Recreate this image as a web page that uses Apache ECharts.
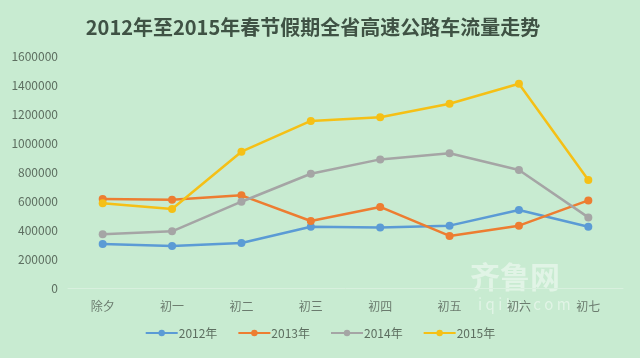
<!DOCTYPE html>
<html><head><meta charset="utf-8">
<script src="https://cdn.jsdelivr.net/npm/echarts@6/dist/echarts.min.js"></script>
<style>html,body{margin:0;padding:0;background:#c8ebd1;}#c{width:640px;height:358px;}</style>
</head><body><div id="c"></div>
<script>
const categories = ['除夕','初一','初二','初三','初四','初五','初六','初七'];
const s2012 = [303000, 290000, 310000, 423000, 417000, 430000, 538000, 423000];
const s2013 = [614000, 609000, 639000, 462000, 559000, 359000, 430000, 604000];
const s2014 = [370000, 391000, 595000, 788000, 887000, 929000, 814000, 487000];
const s2015 = [584000, 545000, 940000, 1152000, 1177000, 1271000, 1409000, 745000];
const seriesNames = ['2012年','2013年','2014年','2015年'];
const colors = ['#5b9bd5','#ed7d31','#a5a5a5','#f5c016'];
const font = '"Noto Sans CJK SC", sans-serif';
const chart = echarts.init(document.getElementById('c'));
const mk = (name, data, color) => ({
  name, type: 'line', data, symbol: 'circle', symbolSize: 8,
  lineStyle: { width: 2.5, color }, itemStyle: { color }
});
chart.setOption({
  backgroundColor: '#c8ebd1',
  color: colors,
  title: {
    text: '2012年至2015年春节假期全省高速公路车流量走势',
    left: 308, top: 12, textAlign: 'center',
    textStyle: { fontFamily: font, fontSize: 20, fontWeight: 'bold', color: '#3f5244' }
  },
  grid: { left: 68, right: 17, top: 56, bottom: 70 },
  legend: {
    data: seriesNames, bottom: 14, left: 'center', itemGap: 20, itemWidth: 32, itemHeight: 8,
    textStyle: { fontFamily: font, fontSize: 12, color: '#5d6e60', padding: [0, 0, 0, -4] }
  },
  xAxis: {
    type: 'category', data: categories, boundaryGap: true,
    axisLine: { lineStyle: { color: '#d8f0de', width: 1 } },
    axisTick: { show: false },
    axisLabel: { fontFamily: font, fontSize: 12, color: '#6b7b6e', margin: 12 }
  },
  yAxis: {
    type: 'value', min: 0, max: 1600000, interval: 200000,
    axisLine: { show: false }, axisTick: { show: false },
    splitLine: { show: false },
    axisLabel: { fontFamily: font, fontSize: 12, color: '#5d6e60', margin: 10, formatter: v => String(v) }
  },
  graphic: [
    { type: 'text', left: 470, top: 262, style: { text: '齐鲁网', font: 'bold 30px ' + font, fill: 'rgba(255,255,255,0.45)' } },
    { type: 'text', left: 478, top: 297, style: { text: 'i q i l u . c o m', font: '15px ' + font, fill: 'rgba(255,255,255,0.45)' } }
  ],
  series: [
    mk(seriesNames[0], s2012, colors[0]),
    mk(seriesNames[1], s2013, colors[1]),
    mk(seriesNames[2], s2014, colors[2]),
    mk(seriesNames[3], s2015, colors[3])
  ]
});
</script></body></html>
